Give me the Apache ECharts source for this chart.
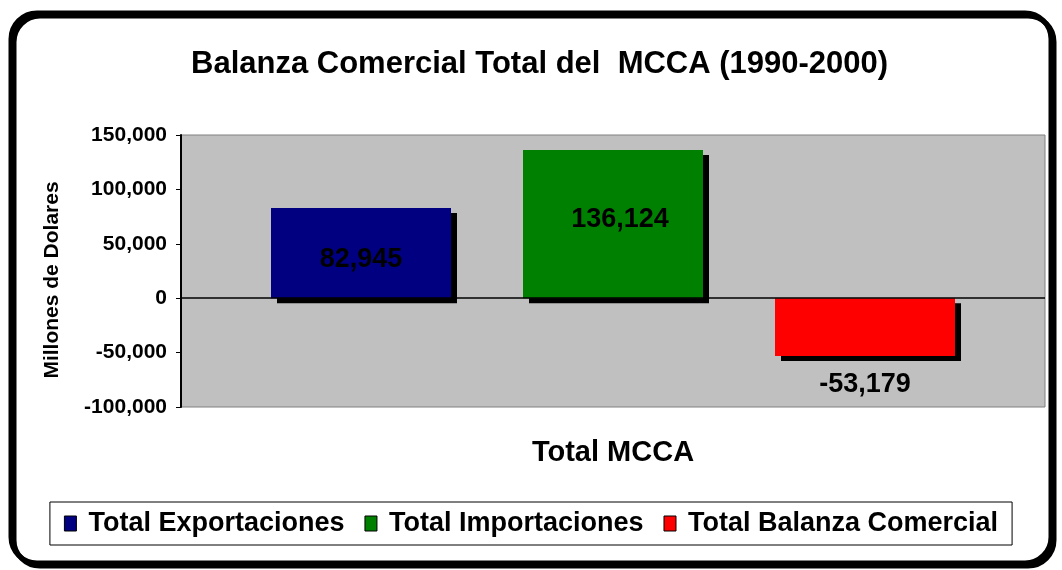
<!DOCTYPE html>
<html>
<head>
<meta charset="utf-8">
<script src="https://cdn.jsdelivr.net/npm/echarts@6/dist/echarts.min.js"></script>
<style>
  html, body { margin: 0; padding: 0; background: #fff; }
  #main { width: 1062px; height: 570px; }
</style>
</head>
<body>
<div id="main"></div>
<script>
// datos del grafico
var categorias = ['Total MCCA'];
var exportaciones = [82945];
var importaciones = [136124];
var balanza = [-53179];
var nombres = ['Total Exportaciones', 'Total Importaciones', 'Total Balanza Comercial'];
var colores = ['#000080', '#008000', '#FF0000'];

var chart = echarts.init(document.getElementById('main'));

var fuente = 'Liberation Sans, Arial, sans-serif';

function fmt(v) {
  return v.toLocaleString('en-US');
}

function serie(nombre, datos, color, etiqueta) {
  return {
    name: nombre,
    type: 'bar',
    data: datos,
    barWidth: 180,
    barGap: '40%',
    itemStyle: {
      color: color,
      borderWidth: 0,
      shadowColor: '#000',
      shadowBlur: 0,
      shadowOffsetX: 6,
      shadowOffsetY: 5
    },
    label: Object.assign({
      show: true,
      position: 'inside',
      color: '#000',
      fontFamily: fuente,
      fontWeight: 'bold',
      fontSize: 27,
      formatter: function (p) { return fmt(p.value); }
    }, etiqueta)
  };
}

var option = {
  animation: false,
  backgroundColor: '#fff',
  graphic: [{
    type: 'rect',
    z: -10,
    shape: { x: 11, y: 13, width: 1040, height: 550, r: 26 },
    style: {
      fill: '#fff',
      stroke: '#000',
      lineWidth: 5,
      shadowColor: '#000',
      shadowBlur: 0,
      shadowOffsetX: 3,
      shadowOffsetY: 3
    }
  }],
  title: {
    text: 'Balanza Comercial Total del  MCCA (1990-2000)',
    left: 186,
    top: 44,
    textStyle: {
      fontFamily: fuente,
      fontWeight: 'bold',
      fontSize: 31,
      color: '#000'
    }
  },
  legend: {
    data: nombres,
    left: 'center',
    top: 502,
    icon: 'rect',
    itemWidth: 12,
    itemHeight: 15,
    itemGap: 20,
    padding: [8, 14, 8, 14],
    borderColor: '#000',
    borderWidth: 1,
    itemStyle: { borderColor: '#000', borderWidth: 1 },
    textStyle: {
      fontFamily: fuente,
      fontWeight: 'bold',
      fontSize: 27,
      color: '#000',
      padding: [0, 0, 0, 7]
    }
  },
  grid: {
    left: 181,
    right: 17,
    top: 135,
    bottom: 163,
    show: true,
    backgroundColor: '#C0C0C0',
    borderColor: '#808080',
    borderWidth: 1
  },
  xAxis: {
    type: 'category',
    data: categorias,
    axisLine: { show: false, onZero: false },
    axisTick: { show: false },
    axisLabel: {
      margin: 31,
      fontFamily: fuente,
      fontWeight: 'bold',
      fontSize: 29,
      color: '#000'
    }
  },
  yAxis: {
    type: 'value',
    min: -100000,
    max: 150000,
    interval: 50000,
    name: 'Millones de Dolares',
    nameLocation: 'middle',
    nameGap: 118,
    nameTextStyle: {
      fontFamily: fuente,
      fontWeight: 'bold',
      fontSize: 21,
      color: '#000',
      padding: [0, 0, 0, -18]
    },
    axisLine: { show: true, lineStyle: { color: '#000', width: 2 } },
    axisTick: { show: true, length: 5, lineStyle: { color: '#000', width: 1 } },
    splitLine: { show: false },
    axisLabel: {
      margin: 14,
      fontFamily: fuente,
      fontWeight: 'bold',
      fontSize: 21,
      color: '#000',
      formatter: function (v) { return fmt(v); }
    }
  },
  series: [
    serie(nombres[0], exportaciones, colores[0], { offset: [0, 6] }),
    serie(nombres[1], importaciones, colores[1], { offset: [7, -5] }),
    Object.assign(serie(nombres[2], balanza, colores[2], { offset: [0, 57] }), {
      markLine: {
        silent: true,
        symbol: 'none',
        label: { show: false },
        lineStyle: { color: '#000', width: 1.5, type: 'solid' },
        data: [{ yAxis: 0 }]
      }
    })
  ]
};

chart.setOption(option);
</script>
</body>
</html>
